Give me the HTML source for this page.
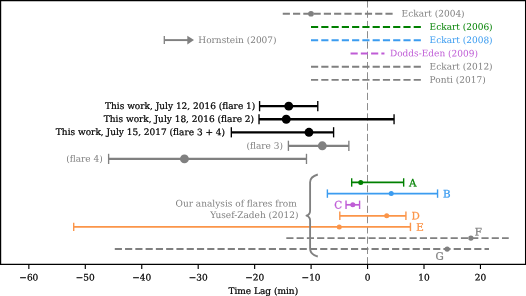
<!DOCTYPE html><html><head><meta charset="utf-8"><title>Time Lag</title><style>html,body{margin:0;padding:0;background:#fff}svg{display:block}text{font-family:"DejaVu Serif","Liberation Serif",serif;font-size:8.99px}</style></head><body>
<svg width="526" height="296" viewBox="0 0 526 296">
<rect width="526" height="296" fill="#fff"/>
<line x1="367.5" y1="264.3" x2="367.5" y2="0.65" stroke="#808080" stroke-width="0.9" stroke-dasharray="7.17 3.10"/>
<line x1="282.75" y1="13.75" x2="392.93" y2="13.75" stroke="#808080" stroke-width="1.937" stroke-dasharray="7.17 3.10"/>
<circle cx="311.0" cy="13.75" r="2.85" fill="#808080"/>
<text transform="matrix(1,0.0005,0,1,401.6,16.6)" fill="#808080" text-anchor="start">Eckart (2004)</text>
<line x1="311.0" y1="27.0" x2="421.18" y2="27.0" stroke="#008000" stroke-width="1.937" stroke-dasharray="7.17 3.10"/>
<text transform="matrix(1,0.0005,0,1,429.6,29.85)" fill="#008000" text-anchor="start">Eckart (2006)</text>
<line x1="311.0" y1="40.25" x2="421.18" y2="40.25" stroke="#3b9cf0" stroke-width="1.937" stroke-dasharray="7.17 3.10"/>
<text transform="matrix(1,0.0005,0,1,429.6,43.1)" fill="#3b9cf0" text-anchor="start">Eckart (2008)</text>
<line x1="350.55" y1="53.5" x2="384.45" y2="53.5" stroke="#bf5cd6" stroke-width="1.937" stroke-dasharray="7.17 3.10"/>
<text transform="matrix(1,0.0005,0,1,390,56.35)" fill="#bf5cd6" text-anchor="start">Dodds-Eden (2009)</text>
<line x1="311.0" y1="66.7" x2="421.18" y2="66.7" stroke="#808080" stroke-width="1.937" stroke-dasharray="7.17 3.10"/>
<text transform="matrix(1,0.0005,0,1,429.6,69.55)" fill="#808080" text-anchor="start">Eckart (2012)</text>
<line x1="311.0" y1="79.9" x2="421.18" y2="79.9" stroke="#808080" stroke-width="1.937" stroke-dasharray="7.17 3.10"/>
<text transform="matrix(1,0.0005,0,1,429.6,82.75)" fill="#808080" text-anchor="start">Ponti (2017)</text>
<line x1="164.3" y1="40.1" x2="188" y2="40.1" stroke="#808080" stroke-width="1.937"/>
<line x1="164.3" y1="36.1" x2="164.3" y2="44.1" stroke="#808080" stroke-width="1.3"/>
<path d="M187.3 35.7 L194 40.1 L187.3 44.5 Z" fill="#808080"/>
<text transform="matrix(1,0.0005,0,1,198.3,42.95)" fill="#808080" text-anchor="start">Hornstein (2007)</text>
<line x1="259.58" y1="106.15" x2="317.78" y2="106.15" stroke="#000" stroke-width="2.3"/>
<line x1="259.58" y1="101.05000000000001" x2="259.58" y2="111.25" stroke="#000" stroke-width="1.35"/>
<line x1="317.78" y1="101.05000000000001" x2="317.78" y2="111.25" stroke="#000" stroke-width="1.35"/>
<circle cx="288.74" cy="106.15" r="4.45" fill="#000"/>
<line x1="259.02" y1="119.25" x2="394.06" y2="119.25" stroke="#000" stroke-width="2.3"/>
<line x1="259.02" y1="114.15" x2="259.02" y2="124.35" stroke="#000" stroke-width="1.35"/>
<line x1="394.06" y1="114.15" x2="394.06" y2="124.35" stroke="#000" stroke-width="1.35"/>
<circle cx="286.25" cy="119.25" r="4.45" fill="#000"/>
<line x1="231.33" y1="132.3" x2="333.6" y2="132.3" stroke="#000" stroke-width="2.3"/>
<line x1="231.33" y1="127.20000000000002" x2="231.33" y2="137.4" stroke="#000" stroke-width="1.35"/>
<line x1="333.6" y1="127.20000000000002" x2="333.6" y2="137.4" stroke="#000" stroke-width="1.35"/>
<circle cx="308.97" cy="132.3" r="4.45" fill="#000"/>
<line x1="288.4" y1="145.8" x2="348.86" y2="145.8" stroke="#808080" stroke-width="2.3"/>
<line x1="288.4" y1="140.70000000000002" x2="288.4" y2="150.9" stroke="#808080" stroke-width="1.35"/>
<line x1="348.86" y1="140.70000000000002" x2="348.86" y2="150.9" stroke="#808080" stroke-width="1.35"/>
<circle cx="322.3" cy="145.8" r="4.45" fill="#808080"/>
<line x1="108.62" y1="158.9" x2="306.48" y2="158.9" stroke="#808080" stroke-width="2.3"/>
<line x1="108.62" y1="153.8" x2="108.62" y2="164.0" stroke="#808080" stroke-width="1.35"/>
<line x1="306.48" y1="153.8" x2="306.48" y2="164.0" stroke="#808080" stroke-width="1.35"/>
<circle cx="184.44" cy="158.9" r="4.45" fill="#808080"/>
<text transform="matrix(1,0.0005,0,1,255.3,109.0)" fill="#000" stroke="#000" stroke-width="0.22" text-anchor="end">This work, July 12, 2016 (flare 1)</text>
<text transform="matrix(1,0.0005,0,1,254.1,122.1)" fill="#000" stroke="#000" stroke-width="0.22" text-anchor="end">This work, July 18, 2016 (flare 2)</text>
<text transform="matrix(1,0.0005,0,1,225.1,135.15)" fill="#000" stroke="#000" stroke-width="0.22" text-anchor="end">This work, July 15, 2017 (flare 3 + 4)</text>
<text transform="matrix(1,0.0005,0,1,283,148.65)" fill="#808080" text-anchor="end">(flare 3)</text>
<text transform="matrix(1,0.0005,0,1,102.7,161.75)" fill="#808080" text-anchor="end">(flare 4)</text>
<line x1="351.68" y1="182.45" x2="403.66" y2="182.45" stroke="#008000" stroke-width="1.7"/>
<line x1="351.68" y1="178.25" x2="351.68" y2="186.64999999999998" stroke="#008000" stroke-width="1.4"/>
<line x1="403.66" y1="178.25" x2="403.66" y2="186.64999999999998" stroke="#008000" stroke-width="1.4"/>
<circle cx="360.72" cy="182.45" r="2.5" fill="#008000"/>
<text transform="matrix(1,0.0005,0,1,409,186.4)" fill="#008000" stroke="#008000" stroke-width="0.25" text-anchor="start" style="font-size:10.36px">A</text>
<line x1="327.38" y1="193.6" x2="437.56" y2="193.6" stroke="#3b9cf0" stroke-width="1.7"/>
<line x1="327.38" y1="189.4" x2="327.38" y2="197.79999999999998" stroke="#3b9cf0" stroke-width="1.4"/>
<line x1="437.56" y1="189.4" x2="437.56" y2="197.79999999999998" stroke="#3b9cf0" stroke-width="1.4"/>
<circle cx="391.23" cy="193.6" r="2.5" fill="#3b9cf0"/>
<text transform="matrix(1,0.0005,0,1,443.0,197.5)" fill="#3b9cf0" stroke="#3b9cf0" stroke-width="0.25" text-anchor="start" style="font-size:10.36px">B</text>
<line x1="346.03" y1="204.8" x2="359.59" y2="204.8" stroke="#bf5cd6" stroke-width="1.7"/>
<line x1="346.03" y1="200.60000000000002" x2="346.03" y2="209.0" stroke="#bf5cd6" stroke-width="1.4"/>
<line x1="359.59" y1="200.60000000000002" x2="359.59" y2="209.0" stroke="#bf5cd6" stroke-width="1.4"/>
<circle cx="352.81" cy="204.8" r="2.5" fill="#bf5cd6"/>
<text transform="matrix(1,0.0005,0,1,334.3,208.6)" fill="#bf5cd6" stroke="#bf5cd6" stroke-width="0.25" text-anchor="start" style="font-size:10.36px">C</text>
<line x1="339.81" y1="215.8" x2="405.92" y2="215.8" stroke="#fb9549" stroke-width="1.7"/>
<line x1="339.81" y1="211.60000000000002" x2="339.81" y2="220.0" stroke="#fb9549" stroke-width="1.4"/>
<line x1="405.92" y1="211.60000000000002" x2="405.92" y2="220.0" stroke="#fb9549" stroke-width="1.4"/>
<circle cx="386.71" cy="215.8" r="2.5" fill="#fb9549"/>
<text transform="matrix(1,0.0005,0,1,411.4,219.6)" fill="#fb9549" stroke="#fb9549" stroke-width="0.25" text-anchor="start" style="font-size:10.36px">D</text>
<line x1="73.7" y1="226.9" x2="410.44" y2="226.9" stroke="#fb9549" stroke-width="1.7"/>
<line x1="73.7" y1="222.70000000000002" x2="73.7" y2="231.1" stroke="#fb9549" stroke-width="1.4"/>
<line x1="410.44" y1="222.70000000000002" x2="410.44" y2="231.1" stroke="#fb9549" stroke-width="1.4"/>
<circle cx="339.25" cy="226.9" r="2.5" fill="#fb9549"/>
<text transform="matrix(1,0.0005,0,1,416.3,230.7)" fill="#fb9549" stroke="#fb9549" stroke-width="0.25" text-anchor="start" style="font-size:10.36px">E</text>
<line x1="286.31" y1="238.1" x2="508.75" y2="238.1" stroke="#808080" stroke-width="1.937" stroke-dasharray="7.17 3.10"/>
<circle cx="470.89" cy="238.1" r="2.65" fill="#808080"/>
<text transform="matrix(1,0.0005,0,1,474.7,235.6)" fill="#808080" stroke="#808080" stroke-width="0.25" text-anchor="start" style="font-size:10.36px">F</text>
<line x1="114.78" y1="249.05" x2="488.98" y2="249.05" stroke="#808080" stroke-width="1.937" stroke-dasharray="7.17 3.10"/>
<circle cx="447.17" cy="249.05" r="2.65" fill="#808080"/>
<text transform="matrix(1,0.0005,0,1,435.4,259.8)" fill="#808080" stroke="#808080" stroke-width="0.25" text-anchor="start" style="font-size:10.36px">G</text>
<path transform="translate(0.3,0)" d="M317.5 174.5 Q309.9 176.6 309.8 182.2 L309.8 210.8 C309.8 213.6 308.6 214.9 306.2 215.7 C308.6 216.5 309.8 217.8 309.8 220.6 L309.8 248.8 Q309.9 254.4 317.5 256.5" fill="none" stroke="#808080" stroke-width="1.85" stroke-linejoin="round"/>
<text transform="matrix(1,0.0005,0,1,296.8,206.5)" fill="#808080" text-anchor="end">Our analysis of flares from</text>
<text transform="matrix(1,0.0005,0,1,298.4,218.0)" fill="#808080" text-anchor="end">Yusef-Zadeh (2012)</text>
<path d="M0 0.6 H526" fill="none" stroke="#000" stroke-width="1.2"/><path d="M0.6 0 V264.9" fill="none" stroke="#000" stroke-width="1.2"/><path d="M525.5 0 V264.9" fill="none" stroke="#000" stroke-width="1.05"/><path d="M0 264.33 H526" fill="none" stroke="#000" stroke-width="1.15"/>
<line x1="28.85" y1="264.3" x2="28.85" y2="269.0" stroke="#000" stroke-width="1.15"/>
<text transform="matrix(1,0.0005,0,1,28.85,280.4)" fill="#000" stroke="#000" stroke-width="0.22" text-anchor="middle">−60</text>
<line x1="85.3" y1="264.3" x2="85.3" y2="269.0" stroke="#000" stroke-width="1.15"/>
<text transform="matrix(1,0.0005,0,1,85.3,280.4)" fill="#000" stroke="#000" stroke-width="0.22" text-anchor="middle">−50</text>
<line x1="141.75" y1="264.3" x2="141.75" y2="269.0" stroke="#000" stroke-width="1.15"/>
<text transform="matrix(1,0.0005,0,1,141.75,280.4)" fill="#000" stroke="#000" stroke-width="0.22" text-anchor="middle">−40</text>
<line x1="198.2" y1="264.3" x2="198.2" y2="269.0" stroke="#000" stroke-width="1.15"/>
<text transform="matrix(1,0.0005,0,1,198.2,280.4)" fill="#000" stroke="#000" stroke-width="0.22" text-anchor="middle">−30</text>
<line x1="254.65" y1="264.3" x2="254.65" y2="269.0" stroke="#000" stroke-width="1.15"/>
<text transform="matrix(1,0.0005,0,1,254.65,280.4)" fill="#000" stroke="#000" stroke-width="0.22" text-anchor="middle">−20</text>
<line x1="311.1" y1="264.3" x2="311.1" y2="269.0" stroke="#000" stroke-width="1.15"/>
<text transform="matrix(1,0.0005,0,1,311.1,280.4)" fill="#000" stroke="#000" stroke-width="0.22" text-anchor="middle">−10</text>
<line x1="367.55" y1="264.3" x2="367.55" y2="269.0" stroke="#000" stroke-width="1.15"/>
<text transform="matrix(1,0.0005,0,1,367.55,280.4)" fill="#000" stroke="#000" stroke-width="0.22" text-anchor="middle">0</text>
<line x1="424.0" y1="264.3" x2="424.0" y2="269.0" stroke="#000" stroke-width="1.15"/>
<text transform="matrix(1,0.0005,0,1,424.0,280.4)" fill="#000" stroke="#000" stroke-width="0.22" text-anchor="middle">10</text>
<line x1="480.45" y1="264.3" x2="480.45" y2="269.0" stroke="#000" stroke-width="1.15"/>
<text transform="matrix(1,0.0005,0,1,480.45,280.4)" fill="#000" stroke="#000" stroke-width="0.22" text-anchor="middle">20</text>
<text transform="matrix(1,0.0005,0,1,263.3,294.05)" fill="#000" stroke="#000" stroke-width="0.22" text-anchor="middle">Time Lag (min)</text>
</svg></body></html>
